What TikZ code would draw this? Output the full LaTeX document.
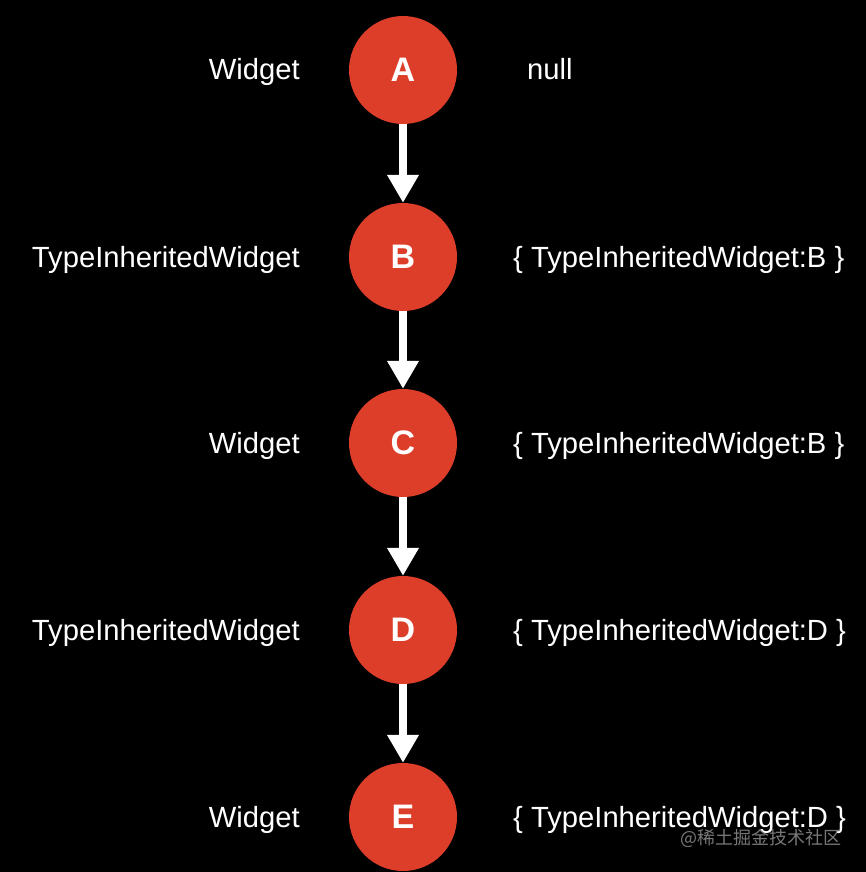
\documentclass[tikz,border=0pt]{standalone}
\usepackage{fontspec}
\setmainfont{Liberation Sans}
\newfontfamily\cjk{Noto Sans CJK SC}
\usetikzlibrary{arrows.meta}
\definecolor{nodered}{RGB}{221,62,42}
\definecolor{wmgray}{RGB}{120,120,120}
\begin{document}
\begin{tikzpicture}[x=1pt,y=-1pt,
  treenode/.style={circle,fill=nodered,draw=none,minimum size=108pt,inner sep=0pt,
    text=white,font=\fontsize{34}{36}\selectfont\bfseries},
  lbl/.style={text=white,inner sep=0pt,font=\fontsize{29.2}{32}\selectfont},
  link/.style={draw=white,line width=8pt,-{Triangle[width=30pt,length=28pt]}}]
\fill[black] (0,0) rectangle (866,872);
\useasboundingbox (0,0) rectangle (866,872);
\node[treenode] (A) at (403,70) {A};
\node[treenode] (B) at (403,257) {B};
\node[treenode] (C) at (403,443) {C};
\node[treenode] (D) at (403,630) {D};
\node[treenode] (E) at (403,817) {E};
\draw[link] (A) -- (B);
\draw[link] (B) -- (C);
\draw[link] (C) -- (D);
\draw[link] (D) -- (E);
\node[lbl,anchor=base east] (lA) at (300,80) {Widget};
\node[lbl,anchor=base east] (lB) at (300,267) {TypeInheritedWidget};
\node[lbl,anchor=base east] (lC) at (300,453) {Widget};
\node[lbl,anchor=base east] (lD) at (300,640) {TypeInheritedWidget};
\node[lbl,anchor=base east] (lE) at (300,827) {Widget};
\node[lbl,anchor=base west] (rA) at (527,80) {null};
\node[lbl,anchor=base west] (rB) at (513,267) {\{ TypeInheritedWidget:B \}};
\node[lbl,anchor=base west] (rC) at (513,453) {\{ TypeInheritedWidget:B \}};
\node[lbl,anchor=base west] (rD) at (513,640) {\{ TypeInheritedWidget:D \}};
\node[lbl,anchor=base west] (rE) at (513,827) {\{ TypeInheritedWidget:D \}};
\node[text=wmgray,inner sep=0pt,anchor=west,font=\cjk\fontsize{18}{20}\selectfont] (wm) at (680,838) {@稀土掘金技术社区};
\end{tikzpicture}
\end{document}
